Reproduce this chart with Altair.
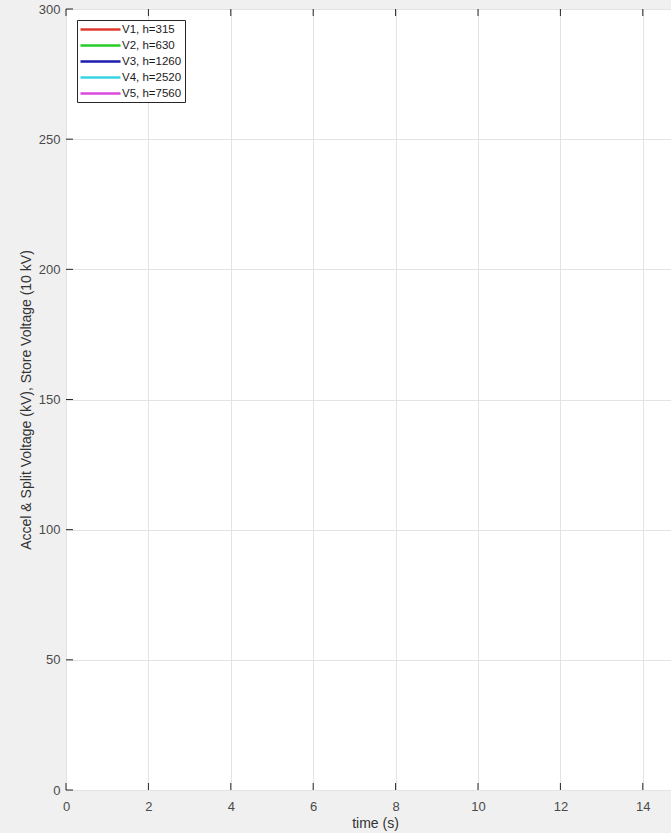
import altair as alt
import pandas as pd

# ---- data ----
series_names = ["V1, h=315", "V2, h=630", "V3, h=1260", "V4, h=2520", "V5, h=7560"]
series_colors = ["#e03a30", "#28cc28", "#1c1cb0", "#38d4e4", "#dc48dc"]
# no visible samples in the reference: each series has no plotted values
series_time = [None, None, None, None, None]
series_value = [None, None, None, None, None]

x_ticks = [0, 2, 4, 6, 8, 10, 12, 14]
y_ticks = [0, 50, 100, 150, 200, 250, 300]
x_domain = [0, 15]
y_domain = [0, 300]

W, H = 618, 781
TICK = 7
FONT = "Liberation Sans"
DARK = "#262626"
LABEL = "#4a4a4a"
TITLE = "#333333"

lines_df = pd.DataFrame({"series": series_names, "time": series_time, "voltage": series_value})
xt_df = pd.DataFrame({"t": x_ticks})
yt_df = pd.DataFrame({"v": y_ticks})

xscale = alt.Scale(domain=x_domain, nice=False, zero=False)
yscale = alt.Scale(domain=y_domain, nice=False, zero=False)

lines = alt.Chart(lines_df).mark_line(strokeWidth=2).encode(
    x=alt.X("time:Q", scale=xscale,
            axis=alt.Axis(values=x_ticks, title="time (s)", grid=True, ticks=False, domain=False,
                          labelPadding=10, labelFontSize=13, labelColor=LABEL, labelFont=FONT,
                          titleFont=FONT, titleFontSize=14, titleFontWeight="normal", titleColor=TITLE,
                          titleY=26, titleBaseline="top", titleX=W / 2,
                          gridColor="#e3e3e3", labelFlush=False)),
    y=alt.Y("voltage:Q", scale=yscale,
            axis=alt.Axis(values=y_ticks, title="Accel & Split Voltage (kV), Store Voltage (10 kV)",
                          grid=True, ticks=False, domain=False,
                          labelPadding=6, labelFontSize=13, labelColor=LABEL, labelFont=FONT,
                          titleFont=FONT, titleFontSize=14, titleFontWeight="normal", titleColor=TITLE,
                          titleX=-33, titleY=H / 2, titleBaseline="bottom",
                          gridColor="#e3e3e3", labelFlush=False)),
    color=alt.Color("series:N",
                    scale=alt.Scale(domain=series_names, range=series_colors),
                    legend=alt.Legend(title=None, orient="none", legendX=11, legendY=11,
                                      symbolType="M-4,0H4", symbolSize=100, symbolStrokeWidth=2.5,
                                      symbolOffset=14,
                                      labelFont=FONT, labelFontSize=11.5, labelColor="#1a1a1a",
                                      labelOffset=15, rowPadding=4, padding=3,
                                      fillColor="white", strokeColor=DARK, cornerRadius=0)),
)

bottom_ticks = alt.Chart(xt_df).mark_rule(color=DARK, strokeWidth=1).encode(
    x=alt.X("t:Q", scale=xscale), y=alt.value(H), y2=alt.value(H - TICK))
top_ticks = alt.Chart(xt_df).mark_rule(color=DARK, strokeWidth=1).encode(
    x=alt.X("t:Q", scale=xscale), y=alt.value(0), y2=alt.value(TICK))
left_ticks = alt.Chart(yt_df).mark_rule(color=DARK, strokeWidth=1).encode(
    y=alt.Y("v:Q", scale=yscale), x=alt.value(0), x2=alt.value(TICK))
right_ticks = alt.Chart(yt_df).mark_rule(color=DARK, strokeWidth=1).encode(
    y=alt.Y("v:Q", scale=yscale), x=alt.value(W), x2=alt.value(W - TICK))

chart = alt.layer(lines, bottom_ticks, top_ticks, left_ticks, right_ticks).properties(
    width=W, height=H,
    autosize=alt.AutoSizeParams(type="none"),
    padding={"left": 66, "top": 9, "right": -13, "bottom": 43},
    background="#f0f0f0",
).configure_view(fill="white", stroke=DARK, strokeWidth=1)

chart.save("out.html", embed_options={"renderer": "svg", "actions": False})
